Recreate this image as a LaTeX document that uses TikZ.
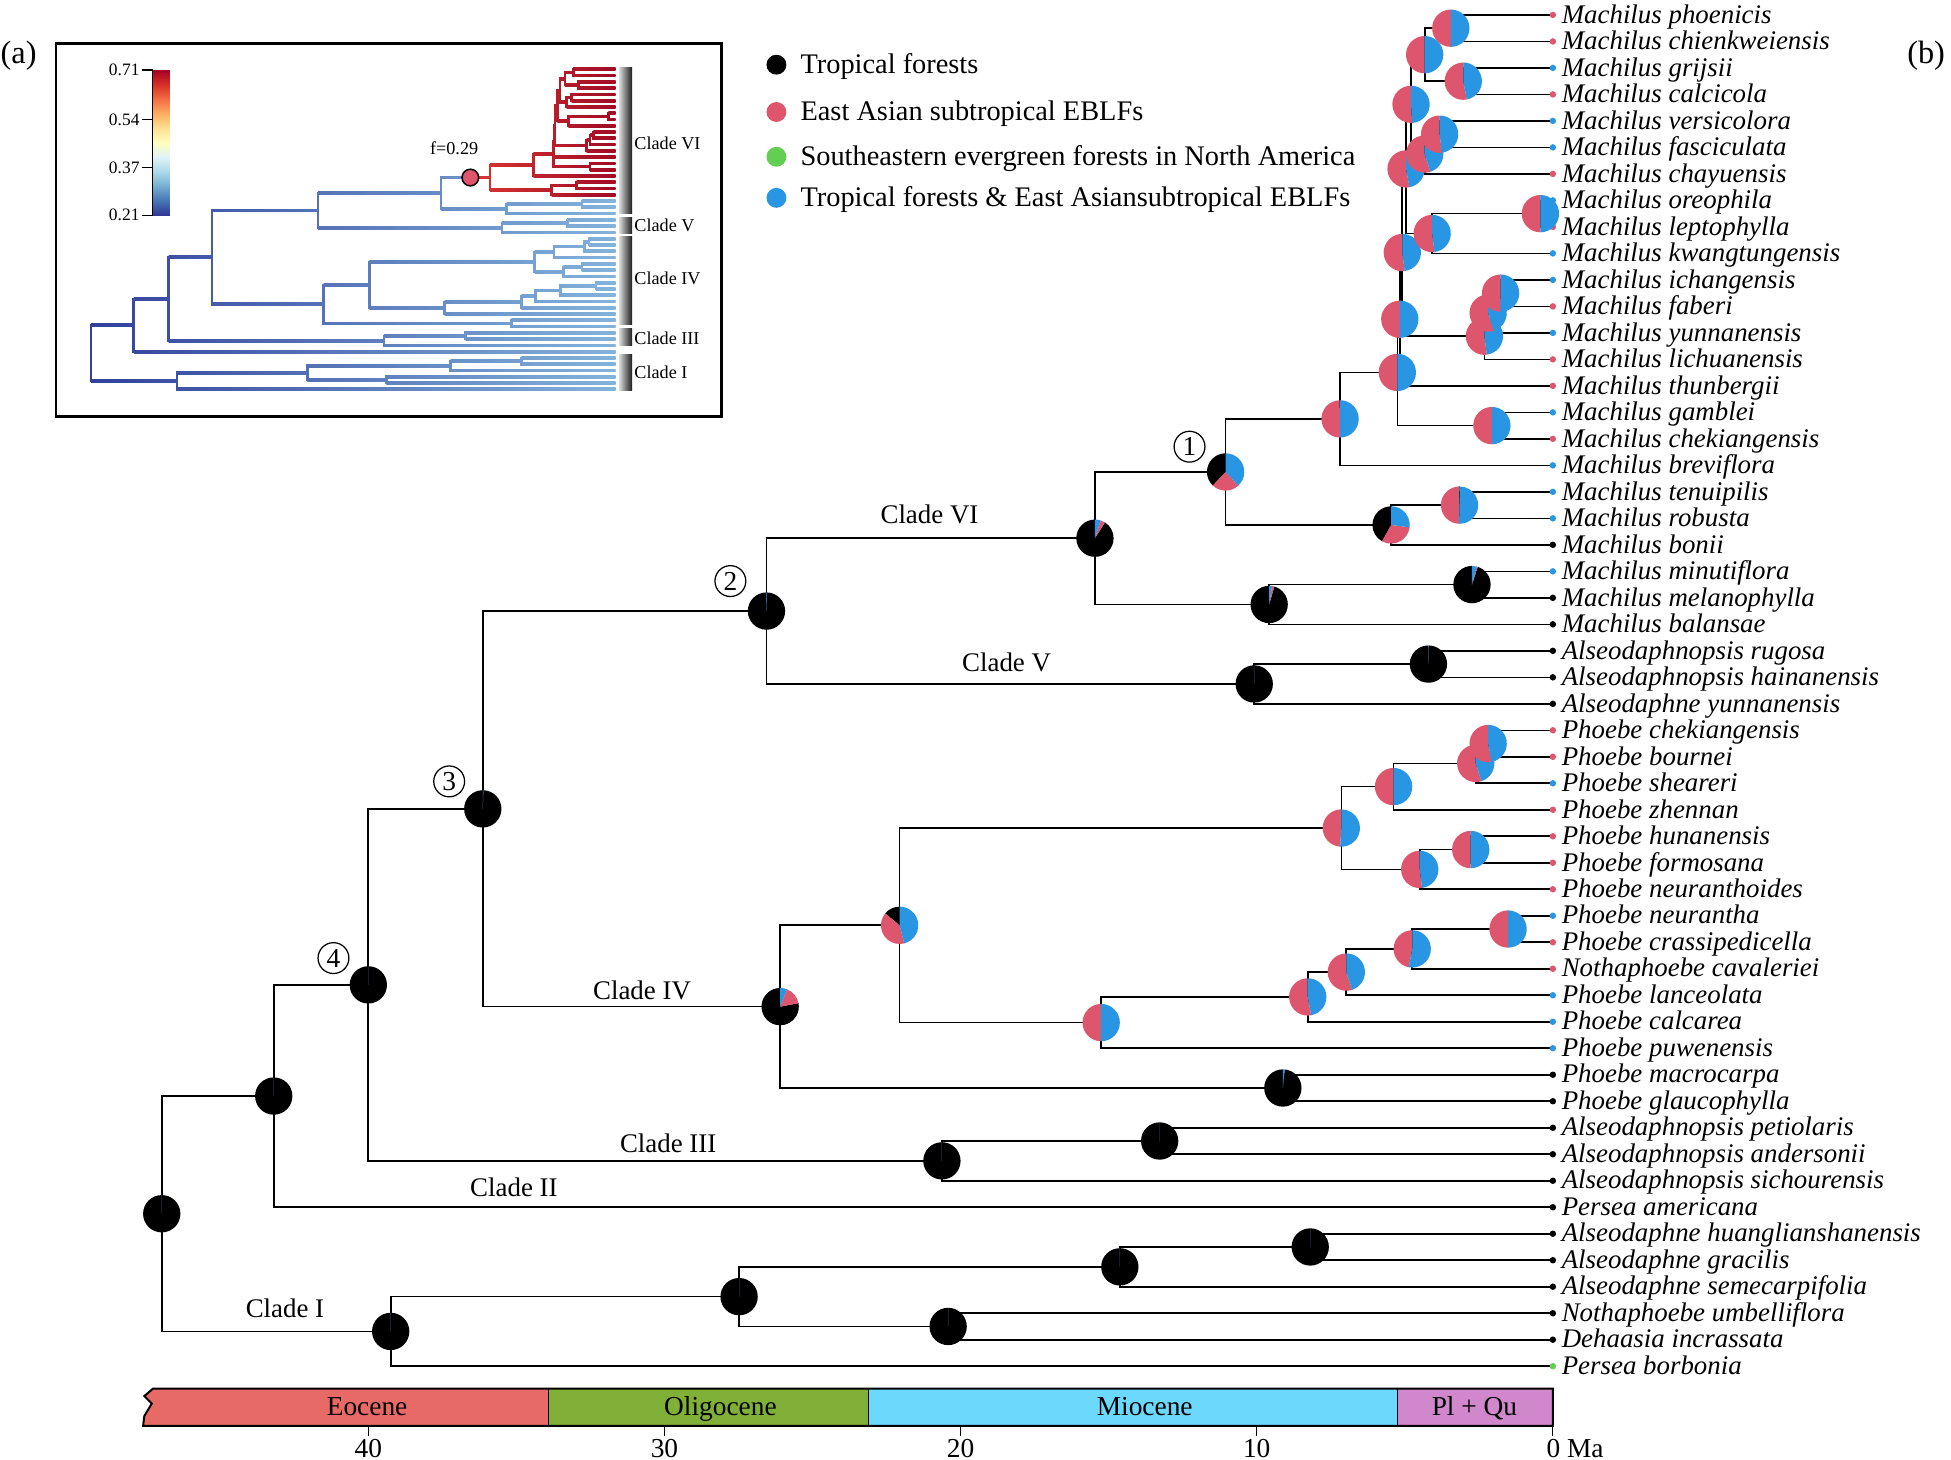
\documentclass[tikz,border=0pt]{standalone}
\usepackage{fontspec}
\setmainfont{Liberation Serif}
\usetikzlibrary{calc}

\definecolor{pinkc}{RGB}{222,86,110}
\definecolor{bluec}{RGB}{40,150,226}
\definecolor{greenc}{RGB}{98,206,82}
\definecolor{bdark}{RGB}{50,64,156}
\definecolor{blight}{RGB}{132,180,220}
\definecolor{rlight}{RGB}{214,52,48}
\definecolor{rdark}{RGB}{160,10,38}
\definecolor{eoc}{RGB}{232,106,103}
\definecolor{oli}{RGB}{128,176,56}
\definecolor{mio}{RGB}{108,216,252}
\definecolor{plq}{RGB}{208,135,204}
\colorlet{dotp}{pinkc}\colorlet{dotb}{bluec}\colorlet{dotk}{black}\colorlet{dotg}{greenc}

\pgfdeclareverticalshading{rdylbu}{100bp}{
 rgb(0bp)=(0.192,0.212,0.584);
 rgb(25bp)=(0.192,0.212,0.584);
 rgb(30bp)=(0.271,0.459,0.706);
 rgb(35bp)=(0.455,0.678,0.820);
 rgb(40bp)=(0.671,0.851,0.914);
 rgb(45bp)=(0.878,0.953,0.973);
 rgb(50bp)=(1,1,0.749);
 rgb(55bp)=(0.996,0.878,0.565);
 rgb(60bp)=(0.992,0.682,0.380);
 rgb(65bp)=(0.957,0.427,0.263);
 rgb(70bp)=(0.843,0.188,0.153);
 rgb(75bp)=(0.647,0,0.149);
 rgb(100bp)=(0.647,0,0.149)}

\newcommand\setr[2]{\expandafter\xdef\csname r@#1\endcsname{#2}}
\newcommand\getr[1]{\csname r@#1\endcsname}
\def\iw{1.1}
\newcommand\icol[3]{%
  \ifx r#1%
    \pgfmathtruncatemacro\mypct{max(0,min(100,(#2-385)/1.10))}%
    \colorlet{#3}{rdark!\mypct!rlight}%
  \else
    \pgfmathtruncatemacro\mypct{max(0,min(100,(#2-73)/4.22))}%
    \colorlet{#3}{blight!\mypct!bdark}%
  \fi}
% name, child1, child2, x main, x inset, inset scheme
\newcommand\ndm[6]{%
 \pgfmathsetmacro\tmpr{(\getr{#2}+\getr{#3})/2}%
 \setr{#1}{\tmpr}%
 \expandafter\xdef\csname xi@#1\endcsname{#5}%
 \coordinate (m-#1) at (#4,{12+(\tmpr-1)*21.294});
 \coordinate (i-#1) at (#5,{55.7+(\tmpr-1)*5.043});
 \draw[tree] (m-#2) -| (m-#1) |- (m-#3);
 \pgfmathsetmacro\yA{55.7+(\getr{#2}-1)*5.043}%
 \pgfmathsetmacro\yB{55.7+(\getr{#3}-1)*5.043}%
 \edef\xA{\csname xi@#2\endcsname}%
 \edef\xB{\csname xi@#3\endcsname}%
 \icol{#6}{#5}{cpar}\icol{#6}{\xA}{cka}\icol{#6}{\xB}{ckb}%
 \fill[cpar] (#5-\iw,\yA-\iw) rectangle (#5+\iw,\yB+\iw);
 \shade[left color=cpar,right color=cka] (#5,\yA-\iw) rectangle (\xA,\yA+\iw);
 \shade[left color=cpar,right color=ckb] (#5,\yB-\iw) rectangle (\xB,\yB+\iw);
}
\def\pr{15}
\newcommand\pie[4]{%
 \begin{scope}[shift={(m-#1)},yscale=-1]
  \pgfmathsetmacro\aA{90+360*(#2)}%
  \pgfmathsetmacro\aB{90+360*(#2+#3)}%
  \fill[black] (0,0) -- (90:\pr) arc[start angle=90,end angle=\aA,radius=\pr] -- cycle;
  \fill[pinkc] (0,0) -- (\aA:\pr) arc[start angle=\aA,end angle=\aB,radius=\pr] -- cycle;
  \fill[bluec] (0,0) -- (\aB:\pr) arc[start angle=\aB,end angle=450,radius=\pr] -- cycle;
 \end{scope}}

\begin{document}
\begin{tikzpicture}[x=0.5pt,y=-0.5pt,
  tree/.style={line width=0.65pt,black},
  taxon/.style={anchor=base west,inner sep=0pt,xshift=3.4pt,yshift=-3.3pt,font=\fontsize{10.8}{12}\selectfont\itshape},
  cladelab/.style={anchor=base,inner sep=0pt,font=\fontsize{10.8}{12}\selectfont},
  leg/.style={anchor=base west,inner sep=0pt,yshift=-3.6pt,font=\fontsize{11.4}{13}\selectfont},
  circnum/.style={circle,draw,line width=0.5pt,inner sep=0pt,minimum size=12.4pt,font=\fontsize{11}{12}\selectfont},
  ilab/.style={anchor=west,inner sep=0pt,font=\fontsize{7.3}{8}\selectfont},
  tick/.style={anchor=east,inner sep=0pt,font=\fontsize{7}{8}\selectfont},
  axlab/.style={anchor=base,inner sep=0pt,font=\fontsize{11}{12}\selectfont}]
\useasboundingbox (0,0) rectangle (1568,1173);

% ---------- inset frame and colour bar ----------
\draw[line width=1.1pt] (45,35) rectangle (580,335);
\shade[shading=rdylbu] (122.8,56.3) rectangle (136.6,173);
\draw[line width=0.5pt] (122.8,56.3) -- (122.8,173);
\foreach \v/\yy in {0.71/56.3,0.54/96,0.37/134.5,0.21/173}{
  \draw[line width=0.5pt] (114,\yy) -- (122.8,\yy);
  \node[tick] (tk\yy) at (112.5,\yy) {\v};
}

% ---------- tips ----------
\foreach \i in {1,...,52}{
  \setr{t\i}{\i}
  \expandafter\xdef\csname xi@t\i\endcsname{494.7}
  \coordinate (m-t\i) at (1248,{12+(\i-1)*21.294});
  \coordinate (i-t\i) at (494.7,{55.7+(\i-1)*5.043});
}

% ---------- tree (main + inset) ----------
\ndm{a12}{t1}{t2}{1166}{460.7}{r}
\ndm{c34}{t3}{t4}{1176}{464.7}{r}
\ndm{b}{a12}{c34}{1145}{454}{r}
\ndm{e56}{t5}{t6}{1157}{459.4}{r}
\ndm{f}{e56}{t7}{1145}{455.4}{r}
\ndm{d}{b}{f}{1134}{450}{r}
\ndm{h89}{t8}{t9}{1238}{488.9}{r}
\ndm{h}{h89}{t10}{1151}{456.7}{r}
\ndm{g}{d}{h}{1130}{448}{r}
\ndm{j}{t11}{t12}{1206}{476.8}{r}
\ndm{k}{j}{t13}{1196}{474.1}{r}
\ndm{l}{k}{t14}{1193}{471.4}{r}
\ndm{i}{g}{l}{1127}{446}{r}
\ndm{mq}{i}{t15}{1125}{445.3}{r}
\ndm{gam}{t16}{t17}{1199}{474.1}{r}
\ndm{n}{mq}{gam}{1123}{444.7}{r}
\ndm{Mc}{n}{t18}{1077}{428.6}{r}
\ndm{Tr}{t19}{t20}{1173}{463.4}{r}
\ndm{Tb}{Tr}{t21}{1118}{443.4}{r}
\ndm{N1}{Mc}{Tb}{985}{393.7}{r}
\ndm{Mm}{t22}{t23}{1183}{467.7}{b}
\ndm{Mb}{Mm}{t24}{1020}{407.1}{b}
\ndm{N6}{N1}{Mb}{880}{354.4}{b}
\ndm{CVs}{t25}{t26}{1148}{455.8}{b}
\ndm{CV}{CVs}{t27}{1008}{403.4}{b}
\ndm{N2c}{N6}{CV}{616}{255.6}{b}
\ndm{Pd}{t28}{t29}{1196}{473.4}{b}
\ndm{Pc}{Pd}{t30}{1186}{469.6}{b}
\ndm{Pb}{Pc}{t31}{1120}{445.3}{b}
\ndm{Pf}{t32}{t33}{1182}{467.7}{b}
\ndm{Pe}{Pf}{t34}{1141}{452.8}{b}
\ndm{Pa}{Pb}{Pe}{1078}{429.6}{b}
\ndm{Pk}{t35}{t36}{1212}{479}{b}
\ndm{Pj}{Pk}{t37}{1135}{450.2}{b}
\ndm{Pi}{Pj}{t38}{1082}{430.3}{b}
\ndm{Ph}{Pi}{t39}{1051}{419.1}{b}
\ndm{Pg}{Ph}{t40}{885}{357.4}{b}
\ndm{P}{Pa}{Pg}{723}{296.8}{b}
\ndm{Pm}{t41}{t42}{1031}{410.9}{b}
\ndm{CIV}{P}{Pm}{627}{260.1}{b}
\ndm{N3}{N2c}{CIV}{388}{170.3}{b}
\ndm{CIIIs}{t43}{t44}{932}{374.2}{b}
\ndm{CIII}{CIIIs}{t45}{757}{308.7}{b}
\ndm{N4}{N3}{CIII}{296}{135.5}{b}
\ndm{N2}{N4}{t46}{220}{107.5}{b}
\ndm{Bh}{t47}{t48}{1053}{419.1}{b}
\ndm{B}{Bh}{t49}{900}{362.2}{b}
\ndm{Cn}{t50}{t51}{762}{310.6}{b}
\ndm{A}{B}{Cn}{594}{247}{b}
\ndm{C1}{A}{t52}{314}{142.3}{b}
\ndm{R}{N2}{C1}{130}{73.1}{b}

% red start of clade VI branch in inset, with shift marker
\fill[rlight] ($(i-N1)+(-15.7,-\iw)$) rectangle ($(i-N1)+(0,\iw)$);
\draw[line width=0.6pt,fill=pinkc] ($(i-N1)+(-15.7,0)$) circle[radius=6.7];
\node[ilab,anchor=center] (fval) at (365,119) {f=0.29};

% inset clade bars
\foreach \ya/\yb/\nm/\yl in {54.5/171.8/Clade VI/115,175/187.5/Clade V/181,190/261/Clade IV/224,264/278/Clade III/271.5,285/313.7/Clade I/299}{
  \shade[left color=black!15,right color=black!90] (497.7,\ya) rectangle (508,\yb);
  \node[ilab] at (509.5,\yl) {\nm};
}

% ---------- tip dots ----------
\foreach \c [count=\i] in {p,p,b,p,b,b,p,b,p,b,b,p,b,p,p,b,p,b,b,b,k,b,k,k,k,k,k,p,p,b,p,p,p,p,b,p,p,b,b,b,k,k,k,k,k,k,k,k,k,k,k,g}{
  \fill[dot\c] (m-t\i) circle[radius=2.6];
}

% ---------- pies (parents first) ----------
\pie{R}{1}{0}{0}
\pie{C1}{1}{0}{0}
\pie{A}{1}{0}{0}
\pie{Cn}{1}{0}{0}
\pie{B}{1}{0}{0}
\pie{Bh}{1}{0}{0}
\pie{N2}{1}{0}{0}
\pie{N4}{1}{0}{0}
\pie{CIII}{1}{0}{0}
\pie{CIIIs}{1}{0}{0}
\pie{N3}{0.995}{0}{0.005}
\pie{CIV}{0.78}{0.16}{0.06}
\pie{Pm}{0.985}{0}{0.015}
\pie{P}{0.14}{0.40}{0.46}
\pie{Pg}{0}{0.5}{0.5}
\pie{Ph}{0}{0.53}{0.47}
\pie{Pi}{0}{0.55}{0.45}
\pie{Pj}{0}{0.47}{0.53}
\pie{Pk}{0}{0.5}{0.5}
\pie{Pa}{0}{0.49}{0.51}
\pie{Pe}{0}{0.52}{0.48}
\pie{Pf}{0}{0.5}{0.5}
\pie{Pb}{0}{0.5}{0.5}
\pie{Pc}{0}{0.55}{0.45}
\pie{Pd}{0}{0.53}{0.47}
\pie{N2c}{0.995}{0}{0.005}
\pie{CV}{1}{0}{0}
\pie{CVs}{0.997}{0}{0.003}
\pie{N6}{0.91}{0.04}{0.05}
\pie{Mb}{0.955}{0.02}{0.025}
\pie{Mm}{0.95}{0.01}{0.04}
\pie{N1}{0.38}{0.24}{0.38}
\pie{Tb}{0.42}{0.31}{0.27}
\pie{Tr}{0.006}{0.49}{0.504}
\pie{Mc}{0.005}{0.495}{0.5}
\pie{n}{0}{0.5}{0.5}
\pie{gam}{0}{0.5}{0.5}
\pie{mq}{0}{0.5}{0.5}
\pie{i}{0}{0.52}{0.48}
\pie{l}{0}{0.52}{0.48}
\pie{k}{0}{0.55}{0.45}
\pie{j}{0}{0.5}{0.5}
\pie{g}{0}{0.53}{0.47}
\pie{h}{0}{0.52}{0.48}
\pie{h89}{0}{0.5}{0.5}
\pie{d}{0}{0.51}{0.49}
\pie{f}{0}{0.55}{0.45}
\pie{e56}{0}{0.52}{0.48}
\pie{b}{0}{0.5}{0.5}
\pie{c34}{0}{0.53}{0.47}
\pie{a12}{0}{0.5}{0.5}

% ---------- taxon labels ----------
\foreach \nm [count=\i] in {Machilus phoenicis,Machilus chienkweiensis,Machilus grijsii,Machilus calcicola,Machilus versicolora,Machilus fasciculata,Machilus chayuensis,Machilus oreophila,Machilus leptophylla,Machilus kwangtungensis,Machilus ichangensis,Machilus faberi,Machilus yunnanensis,Machilus lichuanensis,Machilus thunbergii,Machilus gamblei,Machilus chekiangensis,Machilus breviflora,Machilus tenuipilis,Machilus robusta,Machilus bonii,Machilus minutiflora,Machilus melanophylla,Machilus balansae,Alseodaphnopsis rugosa,Alseodaphnopsis hainanensis,Alseodaphne yunnanensis,Phoebe chekiangensis,Phoebe bournei,Phoebe sheareri,Phoebe zhennan,Phoebe hunanensis,Phoebe formosana,Phoebe neuranthoides,Phoebe neurantha,Phoebe crassipedicella,Nothaphoebe cavaleriei,Phoebe lanceolata,Phoebe calcarea,Phoebe puwenensis,Phoebe macrocarpa,Phoebe glaucophylla,Alseodaphnopsis petiolaris,Alseodaphnopsis andersonii,Alseodaphnopsis sichourensis,Persea americana,Alseodaphne huanglianshanensis,Alseodaphne gracilis,Alseodaphne semecarpifolia,Nothaphoebe umbelliflora,Dehaasia incrassata,Persea borbonia}{
  \node[taxon] (lab\i) at (m-t\i) {\nm};
}

% ---------- clade labels and numbered nodes ----------
\node[cladelab] (cl6) at (747,421) {Clade VI};
\node[cladelab] (cl5) at (809,540) {Clade V};
\node[cladelab] (cl4) at (516,803) {Clade IV};
\node[cladelab] (cl3) at (537,926) {Clade III};
\node[cladelab] (cl2) at (413,962) {Clade II};
\node[cladelab] (cl1) at (229,1059) {Clade I};
\node[circnum] (n1) at (956,359) {1};
\node[circnum] (n2) at (587,467) {2};
\node[circnum] (n3) at (361,628) {3};
\node[circnum] (n4) at (268,770) {4};

% ---------- legend ----------
\foreach \cc/\yy/\tx in {black/52/Tropical forests,pinkc/90/East Asian subtropical EBLFs,greenc/126/Southeastern evergreen forests in North America,bluec/159/Tropical forests \& East Asiansubtropical EBLFs}{
  \fill[\cc] (624,\yy) circle[radius=8];
  \node[leg] at (643,\yy) {\tx};
}

% ---------- panel letters ----------
\node[font=\fontsize{13}{14}\selectfont] (pa) at (15,45) {(a)};
\node[font=\fontsize{13}{14}\selectfont] (pb) at (1548,45) {(b)};

% ---------- time scale ----------
\fill[eoc] (123,1116) -- (441,1116) -- (441,1146) -- (115,1146) -- (116,1138) -- (122,1128) -- (116,1122) -- cycle;
\fill[oli] (441,1116) rectangle (698,1146);
\fill[mio] (698,1116) rectangle (1123,1146);
\fill[plq] (1123,1116) rectangle (1248,1146);
\draw[line width=0.8pt] (123,1116) -- (1248,1116) -- (1248,1146) -- (115,1146) -- (116,1138) -- (122,1128) -- (116,1122) -- cycle;
\draw[line width=0.5pt] (441,1116) -- (441,1146) (698,1116) -- (698,1146) (1123,1116) -- (1123,1146);
\node[axlab] at (295,1138) {Eocene};
\node[axlab] at (579,1138) {Oligocene};
\node[axlab] at (920,1138) {Miocene};
\node[axlab] at (1185,1138) {Pl + Qu};
\foreach \t in {40,30,20,10}{
  \draw[line width=0.5pt] ({1248-23.8*\t},1146) -- ({1248-23.8*\t},1154);
  \node[axlab] at ({1248-23.8*\t},1171) {\t};
}
\draw[line width=0.5pt] (1248,1146) -- (1248,1154);
\node[axlab,anchor=base west,xshift=-2.75pt] at (1248,1171) {0 Ma};
\end{tikzpicture}
\end{document}
